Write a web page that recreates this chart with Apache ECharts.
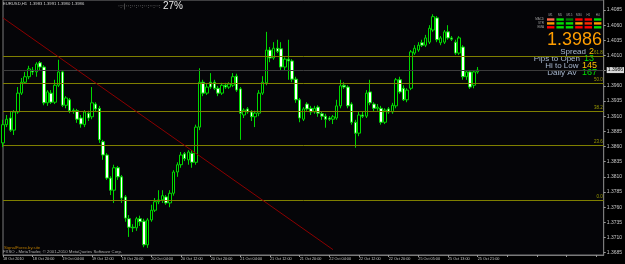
<!DOCTYPE html>
<html>
<head>
<meta charset="utf-8">
<script src="https://cdn.jsdelivr.net/npm/echarts@6/dist/echarts.min.js"></script>
<style>
  html, body { margin: 0; padding: 0; background: #000; }
  #chart-container { width: 625px; height: 264px; }
</style>
</head>
<body>
<div id="chart-container"></div>
<script>
// EURUSD H1 candles: [open, close, low, high]
var candles = [
  [1.3866,1.3896,1.3859,1.3904],[1.3896,1.3905,1.3892,1.3912],[1.3907,1.3887,1.3884,1.3917],[1.3887,1.3917,1.3879,1.3920],
  [1.3917,1.3948,1.3914,1.3958],[1.3948,1.3966,1.3945,1.3973],[1.3966,1.3975,1.3963,1.3983],[1.3975,1.3988,1.3971,1.3993],
  [1.3986,1.3983,1.3978,1.3991],[1.3983,1.3996,1.3975,1.3999],[1.3998,1.3991,1.3986,1.4001],[1.3991,1.3932,1.3928,1.3994],
  [1.3932,1.3950,1.3927,1.3953],[1.3948,1.3933,1.3930,1.3953],[1.3933,1.3961,1.3930,1.3970],[1.3961,1.3983,1.3958,1.4003],
  [1.3983,1.3928,1.3925,1.3986],[1.3928,1.3940,1.3923,1.3943],[1.3937,1.3919,1.3915,1.3940],[1.3919,1.3920,1.3914,1.3923],
  [1.3919,1.3905,1.3899,1.3922],[1.3907,1.3897,1.3891,1.3912],[1.3896,1.3917,1.3892,1.3920],[1.3915,1.3907,1.3902,1.3919],
  [1.3909,1.3932,1.3905,1.3958],[1.3930,1.3922,1.3917,1.3933],[1.3923,1.3871,1.3866,1.3927],[1.3868,1.3846,1.3838,1.3871],
  [1.3846,1.3808,1.3805,1.3849],[1.3808,1.3788,1.3780,1.3811],[1.3788,1.3825,1.3767,1.3830],[1.3825,1.3810,1.3805,1.3828],
  [1.3810,1.3775,1.3767,1.3813],[1.3777,1.3742,1.3736,1.3780],[1.3741,1.3727,1.3711,1.3747],[1.3727,1.3726,1.3719,1.3732],
  [1.3726,1.3741,1.3721,1.3744],[1.3741,1.3736,1.3729,1.3746],[1.3737,1.3698,1.3694,1.3741],[1.3698,1.3739,1.3693,1.3742],
  [1.3739,1.3755,1.3736,1.3764],[1.3755,1.3769,1.3752,1.3775],[1.3769,1.3772,1.3765,1.3788],[1.3772,1.3779,1.3767,1.3788],
  [1.3777,1.3767,1.3764,1.3780],[1.3767,1.3783,1.3760,1.3788],[1.3783,1.3818,1.3779,1.3821],[1.3818,1.3830,1.3810,1.3834],
  [1.3830,1.3846,1.3825,1.3851],[1.3848,1.3840,1.3836,1.3851],[1.3838,1.3851,1.3830,1.3854],[1.3849,1.3834,1.3825,1.3854],
  [1.3834,1.3892,1.3830,1.3896],[1.3892,1.3966,1.3887,1.3989],[1.3966,1.3948,1.3943,1.3970],[1.3948,1.3958,1.3945,1.3963],
  [1.3966,1.3958,1.3955,1.3981],[1.3966,1.3956,1.3953,1.3970],[1.3956,1.3948,1.3943,1.3960],[1.3948,1.3961,1.3945,1.3965],
  [1.3961,1.3958,1.3955,1.3965],[1.3958,1.3963,1.3955,1.3966],[1.3961,1.3975,1.3958,1.3981],[1.3976,1.3953,1.3950,1.3980],
  [1.3955,1.3915,1.3871,1.3958],[1.3912,1.3920,1.3907,1.3923],[1.3922,1.3917,1.3914,1.3925],[1.3917,1.3909,1.3902,1.3920],
  [1.3909,1.3915,1.3892,1.3919],[1.3915,1.3948,1.3910,1.3953],[1.3948,1.3966,1.3945,1.3976],[1.3965,1.4019,1.3961,1.4049],
  [1.4019,1.4006,1.3999,1.4024],[1.4006,1.4022,1.4003,1.4032],[1.4022,1.4017,1.4014,1.4036],[1.4021,1.3991,1.3986,1.4032],
  [1.3991,1.4004,1.3986,1.4007],[1.4004,1.4001,1.3970,1.4036],[1.4001,1.3971,1.3966,1.4004],[1.3971,1.3937,1.3932,1.3975],
  [1.3937,1.3907,1.3900,1.3940],[1.3905,1.3922,1.3902,1.3925],[1.3930,1.3922,1.3919,1.3933],[1.3923,1.3917,1.3912,1.3927],
  [1.3917,1.3923,1.3914,1.3927],[1.3925,1.3915,1.3909,1.3928],[1.3914,1.3910,1.3904,1.3917],[1.3910,1.3905,1.3891,1.3914],
  [1.3907,1.3905,1.3902,1.3910],[1.3905,1.3909,1.3897,1.3912],[1.3907,1.3927,1.3904,1.3937],[1.3927,1.3960,1.3923,1.3970],
  [1.3961,1.3958,1.3955,1.3966],[1.3958,1.3927,1.3923,1.3961],[1.3930,1.3900,1.3896,1.3933],[1.3900,1.3882,1.3858,1.3904],
  [1.3882,1.3912,1.3877,1.3917],[1.3912,1.3910,1.3907,1.3917],[1.3910,1.3948,1.3907,1.3953],[1.3950,1.3932,1.3928,1.3970],
  [1.3930,1.3923,1.3917,1.3933],[1.3923,1.3925,1.3919,1.3930],[1.3923,1.3900,1.3896,1.3927],[1.3900,1.3920,1.3897,1.3923],
  [1.3922,1.3917,1.3914,1.3925],[1.3917,1.3928,1.3914,1.3932],[1.3927,1.3970,1.3923,1.3973],[1.3970,1.3950,1.3947,1.3975],
  [1.3956,1.3937,1.3935,1.3961],[1.3937,1.3953,1.3933,1.3956],[1.3956,1.4016,1.3953,1.4019],[1.4014,1.4022,1.4011,1.4027],
  [1.4019,1.4027,1.4016,1.4032],[1.4031,1.4027,1.4024,1.4036],[1.4027,1.4039,1.4024,1.4044],[1.4032,1.4055,1.4029,1.4060],
  [1.4052,1.4074,1.4049,1.4078],[1.4072,1.4036,1.4032,1.4075],[1.4031,1.4039,1.4027,1.4042],[1.4032,1.4049,1.4029,1.4052],
  [1.4049,1.4039,1.4036,1.4060],[1.4039,1.4037,1.4034,1.4042],[1.4032,1.4014,1.4011,1.4036],[1.4014,1.4039,1.4011,1.4042],
  [1.4024,1.3975,1.3970,1.4027],[1.3975,1.3983,1.3970,1.3986],[1.3983,1.3958,1.3955,1.3986],[1.3961,1.3983,1.3956,1.3986],
  [1.3983,1.3986,1.3980,1.3991]
];

var timeLabels = ['18 Oct 2010', '18 Oct 20:00', '19 Oct 04:00', '19 Oct 12:00', '19 Oct 20:00',
  '20 Oct 04:00', '20 Oct 12:00', '20 Oct 20:00', '21 Oct 04:00', '21 Oct 12:00', '21 Oct 20:00',
  '22 Oct 04:00', '22 Oct 12:00', '22 Oct 20:00', '25 Oct 05:00', '25 Oct 13:00', '25 Oct 21:00'];
var labelStep = 8;
var slotCount = 163;

var yTicks = [1.3685, 1.3710, 1.3735, 1.3760, 1.3785, 1.3810, 1.3835, 1.3860, 1.3885,
  1.3910, 1.3935, 1.3960, 1.3985, 1.4010, 1.4035, 1.4060, 1.4085];

var fibLevels = ['0.0', '23.6', '38.2', '50.0', '61.8'];
var fibPrices = [1.3771, 1.3862, 1.3918, 1.3964, 1.4009];

var bid = 1.3986;
var trendLine = [[0, 1.4072], [89, 1.3690]];

var header = 'EURUSD,H1  1.3983 1.3991 1.3980 1.3986';
var timerPct = '27%';

var tfNames = ['M1', 'M5', 'M15', 'M30', 'H1', 'H4'];
var rowNames = ['MACD', 'STR', 'EMA'];
var signalColors = [
  ['#ff6a4d', '#00e000', '#007a00', '#ff0000', '#ff0000', '#00e000'],
  ['#ff9a00', '#00e000', '#00e000', '#ff9a00', '#ff2a00', '#ff9a00'],
  ['#ff0000', '#00e000', '#00e000', '#ff0000', '#ff0000', '#00e000']
];
var statNames = ['Spread', 'Pips to Open', 'Hi to Low', 'Daily Av'];
var statValues = ['2', '13', '145', '167'];
var statColors = ['#ffc000', '#00e000', '#ffc000', '#00e000'];

var dom = document.getElementById('chart-container');
var myChart = echarts.init(dom, null, { renderer: 'canvas' });

var cats = [];
for (var i = 0; i < slotCount; i++) cats.push(String(i));

var lineData = fibPrices.map(function (p, k) {
  return {
    yAxis: p,
    lineStyle: { color: '#7f7f00', width: 1, type: 'solid' },
    label: { show: true, position: 'insideEndTop', formatter: fibLevels[k], color: '#9c9c00', fontSize: 4.5, distance: 1, fontFamily: 'Liberation Sans' }
  };
});
lineData.push({
  yAxis: bid,
  lineStyle: { color: '#3c3c3c', width: 1, type: 'solid' },
  label: {
    show: true, position: 'end', formatter: bid.toFixed(4), color: '#000', fontSize: 5, fontFamily: 'Liberation Sans',
    backgroundColor: '#d8d8d8', padding: [1, 1, 0, 1], distance: 3
  }
});
lineData.push([
  { coord: trendLine[0], lineStyle: { color: '#8b0000', width: 1, type: 'solid' }, label: { show: false } },
  { coord: trendLine[1] }
]);

// top-right signal panel
var panel = [];
rowNames.forEach(function (r, ri) {
  panel.push({ type: 'text', x: 544, y: 17.8 + ri * 3.9, style: { text: r, fill: '#a0a0a0', font: '3px "Liberation Sans"', align: 'right' } });
  signalColors[ri].forEach(function (c, ci) {
    panel.push({ type: 'rect', shape: { x: 547 + ci * 9.4, y: 18.3 + ri * 3.9, width: 7.4, height: 2.4 }, style: { fill: c } });
  });
});
tfNames.forEach(function (t, ci) {
  panel.push({ type: 'text', x: 550.7 + ci * 9.4, y: 13.5, style: { text: t, fill: '#a0a0a0', font: '3px "Liberation Sans"', align: 'center' } });
});
statNames.forEach(function (s, k) {
  var yc = 52 + k * 7;
  panel.push({ type: 'text', x: [586, 580, 578.5, 576.5][k], y: yc, style: { text: s, fill: '#a9b9d0', font: '8px "Liberation Sans"', align: 'right', verticalAlign: 'middle' } });
  panel.push({ type: 'text', x: [594, 594, 597, 597][k], y: yc, style: { text: statValues[k], fill: statColors[k], font: '9px "Liberation Sans"', align: 'right', verticalAlign: 'middle' } });
});

var option = {
  backgroundColor: '#000000',
  animation: false,
  grid: { left: 1, right: 18, top: 0, bottom: 9, show: true, backgroundColor: '#050508', borderColor: '#7a7a7a', borderWidth: 1 },
  xAxis: {
    type: 'category',
    data: cats,
    boundaryGap: false,
    axisLine: { show: true, lineStyle: { color: '#7a7a7a' } },
    axisTick: { show: true, length: 2, interval: function (i) { return i % labelStep === 0; }, lineStyle: { color: '#9a9a9a' } },
    axisLabel: {
      interval: function (i) { return i % labelStep === 0; },
      formatter: function (v, i) { return timeLabels[i / labelStep] || ''; },
      align: 'left', color: '#c8c8c8', fontSize: 3.8, margin: 2, fontFamily: 'Liberation Sans'
    },
    splitLine: { show: false }
  },
  yAxis: {
    type: 'value',
    position: 'right',
    min: 1.36812,
    max: 1.41015,
    splitLine: { show: false },
    axisLine: { show: true, lineStyle: { color: '#7a7a7a' } },
    axisTick: { show: true, length: 2, customValues: yTicks, lineStyle: { color: '#9a9a9a' } },
    axisLabel: {
      customValues: yTicks,
      formatter: function (v) { return v.toFixed(4); },
      color: '#c8c8c8', fontSize: 5, margin: 3, fontFamily: 'Liberation Sans'
    }
  },
  graphic: [
    { type: 'text', x: 3, y: 2, style: { text: header, fill: '#d0d0d0', font: '4.2px "Liberation Sans"' } },
    { type: 'text', x: 118, y: 3, style: { text: '·:·|··:··:··:··:··:··:', fill: '#8a8a8a', font: '6px "DejaVu Sans"' } },
    { type: 'text', x: 163, y: 1, style: { text: timerPct, fill: '#e8e8e8', font: '10px "Liberation Sans"' } },
    { type: 'text', x: 602, y: 31, style: { text: bid.toFixed(4), fill: '#ff9e00', font: '18px "Liberation Sans"', align: 'right' } },
    { type: 'text', x: 4, y: 246, style: { text: 'SignalForex.by.site', fill: '#b87a00', font: '4.3px "Liberation Sans"' } },
    { type: 'text', x: 3, y: 250, style: { text: 'FXSO - MetaTrader, © 2001-2010 MetaQuotes Software Corp.', fill: '#b0b0b0', font: '4.3px "Liberation Sans"' } }
  ].concat(panel),
  series: [
    {
      type: 'candlestick',
      data: candles,
      barWidth: 3,
      itemStyle: { color: '#000000', color0: '#ffffff', borderColor: '#00d800', borderColor0: '#00d800', borderWidth: 1 },
      markLine: { silent: true, symbol: 'none', precision: 4, animation: false, data: lineData }
    }
  ]
};

myChart.setOption(option);
window.addEventListener('resize', myChart.resize);
</script>
</body>
</html>
